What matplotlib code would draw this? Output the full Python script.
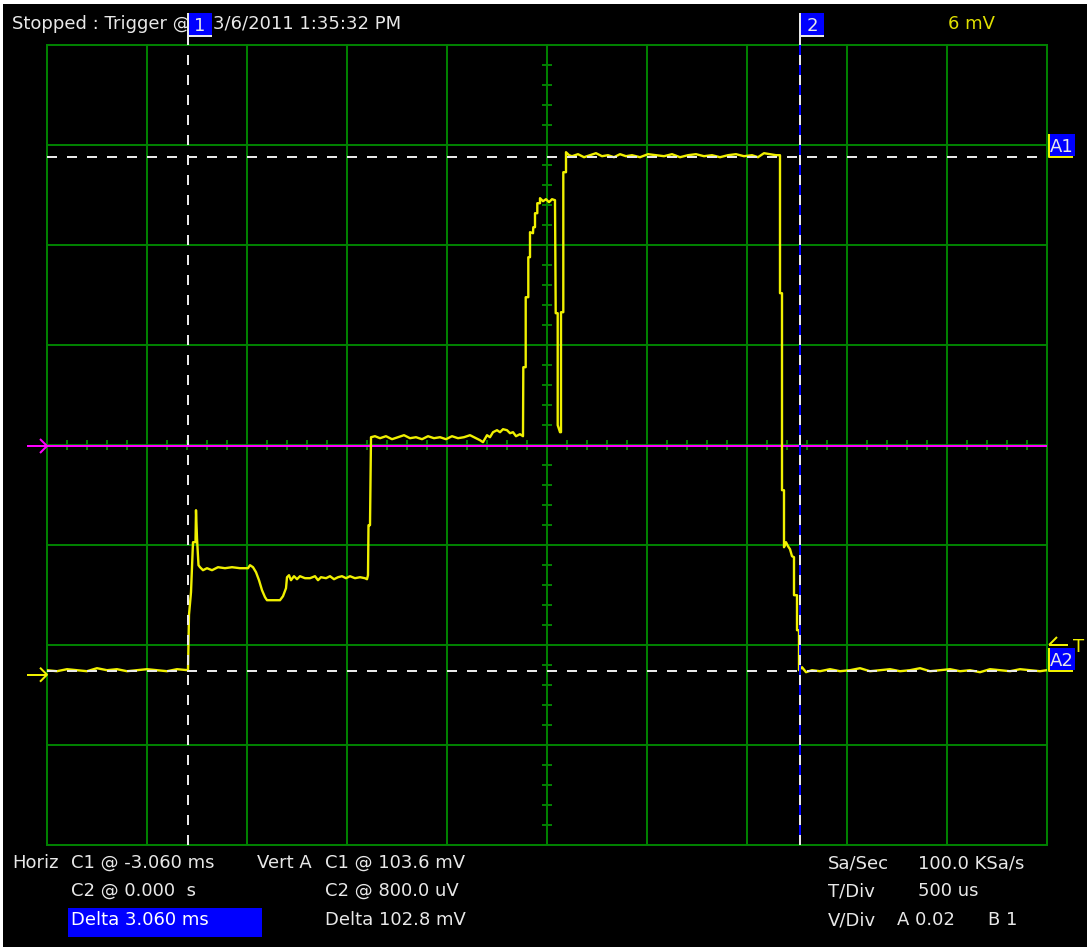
import matplotlib

matplotlib.use("Agg")
import matplotlib.pyplot as plt
import numpy as np
from matplotlib.lines import Line2D
from matplotlib.patches import Rectangle

W, H = 1087, 947

# Scope settings (channel A)
T_DIV = 0.5  # ms per division
V_DIV = 20.0  # mV per division
X_LEFT = -3.765  # ms at left edge of the screen
Y_BOTTOM = -34.06  # mV at bottom edge of the screen
CURSOR1_MS = -3.060
CURSOR2_MS = 0.000
CURSOR1_MV = 103.6
CURSOR2_MV = 0.8
GROUND_MV = 0.0

# Captured channel A trace
TRACE_MS = [
    -3.765, -3.715, -3.665, -3.615, -3.565, -3.515, -3.465, -3.415, -3.365,
    -3.315, -3.265, -3.215, -3.165, -3.115, -3.065,
    -3.06, -3.055, -3.045, -3.035, -3.0225, -3.02, -3.015, -3.0075,
    -3.0, -2.985, -2.965, -2.94, -2.91, -2.875, -2.84, -2.80, -2.76, -2.75,
    -2.735, -2.72, -2.705, -2.69, -2.675, -2.665, -2.625, -2.60, -2.585,
    -2.57, -2.565, -2.555,
    -2.545, -2.53, -2.515, -2.50, -2.475, -2.45, -2.425, -2.41, -2.395,
    -2.37, -2.35, -2.33, -2.31, -2.29, -2.27, -2.25, -2.225, -2.20, -2.175,
    -2.165, -2.16, -2.1575, -2.15, -2.145,
    -2.125, -2.10, -2.07, -2.04, -2.01, -1.98, -1.95, -1.92, -1.89, -1.86,
    -1.83, -1.80, -1.77, -1.74, -1.71, -1.68, -1.65, -1.62,
    -1.60, -1.585, -1.565, -1.55, -1.535, -1.515, -1.50, -1.485, -1.465,
    -1.45, -1.435, -1.42, -1.40, -1.385,
    -1.3835, -1.3715, -1.3715, -1.3585, -1.3585, -1.35, -1.35, -1.335,
    -1.3335, -1.325, -1.325, -1.3135, -1.3135, -1.30, -1.30, -1.285, -1.27,
    -1.255, -1.24, -1.225,
    -1.2215, -1.2115, -1.2115, -1.20, -1.195, -1.195, -1.1835, -1.1835,
    -1.17, -1.17, -1.155,
    -1.14, -1.11, -1.08, -1.05, -1.02, -0.99, -0.96, -0.93, -0.90, -0.87,
    -0.84, -0.80, -0.76, -0.72, -0.68, -0.64, -0.60, -0.56, -0.52, -0.48,
    -0.44, -0.40, -0.36, -0.32, -0.28, -0.24, -0.21, -0.18, -0.15, -0.12,
    -0.11, -0.10, -0.10, -0.09, -0.09, -0.08, -0.08, -0.07, -0.06, -0.05,
    -0.04, -0.03, -0.03, -0.015, -0.015, -0.005, -0.005,
    0.01, 0.03, 0.06, 0.10, 0.15, 0.20, 0.25, 0.30, 0.35, 0.40, 0.45, 0.50,
    0.55, 0.60, 0.65, 0.70, 0.75, 0.80, 0.85, 0.90, 0.95, 1.00, 1.05, 1.10,
    1.15, 1.20, 1.235,
]
TRACE_MV = [
    0.9, 0.7, 1.1, 0.9, 0.7, 1.3, 0.9, 1.1, 0.7, 0.9, 1.1, 0.9, 0.7, 1.1, 0.9,
    0.9, 12.0, 16.5, 26.5, 26.5, 32.9, 27.3, 21.9,
    21.5, 20.9, 21.3, 20.9, 21.5, 21.3, 21.5, 21.3, 21.3, 21.9,
    21.5, 20.5, 18.9, 16.9, 15.5, 14.9, 14.9, 14.9, 15.7,
    17.3, 19.5, 19.9,
    18.9, 19.7, 19.1, 19.7, 19.3, 19.3, 19.7, 18.9, 19.5,
    19.3, 19.7, 19.1, 19.5, 19.7, 19.3, 19.7, 19.3, 19.5, 19.3,
    19.1, 19.9, 29.9, 29.9, 47.5,
    47.7, 47.3, 47.7, 47.1, 47.5, 47.9, 47.3, 47.5, 47.1, 47.7,
    47.3, 47.5, 47.1, 47.7, 47.3, 47.5, 47.9, 47.3,
    46.9, 46.5, 47.9, 47.5, 48.5, 48.9, 48.5, 49.1, 48.9,
    48.3, 48.5, 47.7, 48.1, 47.7,
    61.5, 61.5, 75.5, 75.5, 83.5, 83.5, 88.5, 88.3,
    89.5, 89.5, 92.3, 92.3, 94.3, 94.3, 95.3, 94.7, 95.1,
    94.5, 95.1, 94.9,
    72.3, 72.3, 49.9, 48.5, 48.5, 72.5, 72.5, 100.5,
    100.5, 104.5, 103.9,
    103.7, 104.1, 103.5, 103.9, 104.3, 103.7, 103.9, 103.5, 104.1, 103.7,
    103.9, 103.5, 104.1, 103.9, 103.7, 104.1, 103.5, 103.9, 104.1, 103.7,
    103.9, 103.5, 103.9, 104.1, 103.7, 103.9, 103.5, 104.3, 104.1, 103.9,
    103.9, 103.9, 76.3, 76.3, 36.9, 36.9, 25.5, 26.5, 25.7, 25.1,
    23.7, 23.5, 15.9, 15.9, 8.9, 8.9, 0.9,
    1.5, 0.5, 0.9, 0.7, 1.1, 0.7, 0.9, 1.3, 0.7, 0.9, 1.1, 0.7,
    0.9, 1.3, 0.7, 0.9, 1.1, 0.7, 0.9, 0.5, 1.1, 0.9, 0.7, 1.1,
    0.9, 0.7, 0.9,
]

HEADER = "Stopped : Trigger @"
HEADER_TIME = "3/6/2011 1:35:32 PM"
SCALE_TEXT = "6 mV"

GREEN = "#008000"
YELLOW = "#F0F000"
MAGENTA = "#FF00FF"
BLUE = "#0000FF"
WHITE = "#E8E8E8"

plt.rcParams["font.family"] = ["DejaVu Sans"]
FONT_SIZE = 13


def fxy(px, py):
    """Screen pixel position -> figure fraction."""
    return px / W, 1 - py / H


def screen_text(px, py, s, color=WHITE, zorder=3, **kw):
    x, y = fxy(px, py)
    fig.text(x, y, s, color=color, fontsize=FONT_SIZE, va="baseline",
             zorder=zorder, **kw)


def screen_rect(px, py, w, h, color, zorder=5):
    x, y = fxy(px, py + h)
    fig.add_artist(Rectangle((x, y), w / W, h / H, transform=fig.transFigure,
                             facecolor=color, edgecolor="none", zorder=zorder))


def screen_line(pxs, pys, color, lw=1.44):
    xs = [p / W for p in pxs]
    ys = [1 - p / H for p in pys]
    fig.add_artist(Line2D(xs, ys, transform=fig.transFigure, color=color,
                          lw=lw, zorder=6, solid_capstyle="butt"))


fig = plt.figure(figsize=(W / 100, H / 100), dpi=100, facecolor="white")
screen_rect(3, 4, W - 3, H - 4, "black", zorder=-10)

ax = fig.add_axes([47 / W, 1 - 845 / H, 1000 / W, 800 / H])
ax.set_facecolor("black")
ax.set_xlim(X_LEFT, X_LEFT + 10 * T_DIV)
ax.set_ylim(Y_BOTTOM, Y_BOTTOM + 8 * V_DIV)
ax.set_xticks(X_LEFT + T_DIV * np.arange(11))
ax.set_yticks(Y_BOTTOM + V_DIV * np.arange(9))
ax.tick_params(length=0, labelbottom=False, labelleft=False)
ax.grid(True, color=GREEN, lw=1.44)
for sp in ax.spines.values():
    sp.set_color(GREEN)
    sp.set_linewidth(1.44)

# minor ticks along the centre cross
x_mid = X_LEFT + 5 * T_DIV
y_mid = Y_BOTTOM + 4 * V_DIV
minor_x = X_LEFT + T_DIV / 5 * np.arange(1, 50)
minor_y = Y_BOTTOM + V_DIV / 5 * np.arange(1, 40)
ax.vlines(minor_x, y_mid - 0.05 * V_DIV, y_mid + 0.05 * V_DIV, color=GREEN, lw=1.44)
ax.hlines(minor_y, x_mid - 0.05 * T_DIV, x_mid + 0.05 * T_DIV, color=GREEN, lw=1.44)

# channel B reference line, one pixel under the centre line
b_ref = y_mid - 0.01 * V_DIV
ax.axhline(b_ref, color=MAGENTA, lw=1.44, zorder=3)

ax.plot(TRACE_MS, TRACE_MV, color=YELLOW, lw=1.7, zorder=4)

# cursors
ax.axvline(CURSOR2_MS, color=BLUE, lw=1.44, zorder=5)
for xc in (CURSOR1_MS, CURSOR2_MS):
    ax.axvline(xc, color=WHITE, lw=1.44, dashes=(5, 5), zorder=6)
for yc in (CURSOR1_MV, CURSOR2_MV):
    ax.axhline(yc, color=WHITE, lw=1.44, dashes=(5, 5), zorder=6)

# left edge arrows: channel B (magenta) and channel A ground (yellow)
to_px = ax.transData.transform
for yv, col in ((b_ref, MAGENTA), (GROUND_MV, YELLOW)):
    py = H - to_px((X_LEFT, yv))[1]
    screen_line([27, 47], [py, py], col)
    screen_line([40, 47, 40], [py - 7, py, py + 7], col)

# cursor labels along the top
for xc, lab in ((CURSOR1_MS, "1"), (CURSOR2_MS, "2")):
    px = to_px((xc, 0))[0]
    screen_rect(px, 13, 24, 22, BLUE)
    screen_line([px, px, px + 24], [13, 36, 36], WHITE)
    screen_line([px, px], [36, 45], WHITE)
    screen_text(px + 12, 31, lab, ha="center", zorder=7)

# amplitude cursor labels on the right
for yc, lab in ((CURSOR1_MV, "A1"), (CURSOR2_MV, "A2")):
    py = H - to_px((0, yc))[1]
    screen_rect(1049, py - 23, 26, 22, BLUE)
    screen_line([1049, 1049, 1073], [py - 23, py, py], YELLOW)
    screen_text(1062, py - 5, lab, ha="center", zorder=7)

# trigger level marker
screen_line([1049, 1068], [645, 645], YELLOW)
screen_line([1049, 1057], [645, 637], YELLOW)
screen_text(1073, 652, "T", color=YELLOW)

# header
screen_text(12, 29, HEADER)
screen_text(213, 29, HEADER_TIME)
screen_text(948, 29, SCALE_TEXT, color="#E0E000")

# readouts
screen_rect(68, 908, 194, 29, BLUE)
rows = (868, 896, 925)
screen_text(12, rows[0], "Horiz")
screen_text(71, rows[0], "C1 @ -3.060 ms")
screen_text(71, rows[1], "C2 @ 0.000  s")
screen_text(71, rows[2], "Delta 3.060 ms", color="white", zorder=7)
screen_text(257, rows[0], "Vert A")
screen_text(325, rows[0], "C1 @ 103.6 mV")
screen_text(325, rows[1], "C2 @ 800.0 uV")
screen_text(325, rows[2], "Delta 102.8 mV")
screen_text(828, rows[0], "Sa/Sec")
screen_text(918, rows[0], "100.0 KSa/s")
screen_text(828, rows[1], "T/Div")
screen_text(918, rows[1], "500 us")
screen_text(828, rows[2], "V/Div")
screen_text(897, rows[2], "A 0.02")
screen_text(988, rows[2], "B 1")

fig.savefig("out.png", dpi=100, facecolor=fig.get_facecolor())
